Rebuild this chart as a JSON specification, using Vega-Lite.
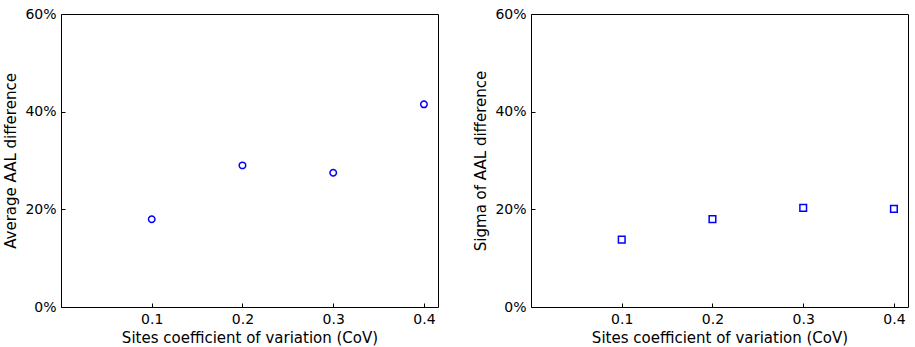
{
  "$schema": "https://vega.github.io/schema/vega-lite/v6.json",
  "padding": {"left": 3, "top": 6, "right": 2, "bottom": 5},
  "config": {
    "view": {"stroke": "black", "strokeWidth": 1},
    "font": "DejaVu Sans",
    "axis": {
      "domain": false,
      "grid": false,
      "tickColor": "black",
      "tickSize": -4,
      "tickWidth": 1,
      "labelFont": "DejaVu Sans",
      "labelFontSize": 14,
      "labelColor": "black",
      "titleFont": "DejaVu Sans",
      "titleFontSize": 15,
      "titleFontWeight": "normal",
      "titleColor": "black",
      "labelPadding": 9
    }
  },
  "spacing": 34,
  "datasets": {
    "avg": [
      {"cov": 0.1, "value": 0.1797},
      {"cov": 0.2, "value": 0.290},
      {"cov": 0.3, "value": 0.275},
      {"cov": 0.4, "value": 0.415}
    ],
    "sigma": [
      {"cov": 0.1, "value": 0.138},
      {"cov": 0.2, "value": 0.180},
      {"cov": 0.3, "value": 0.203},
      {"cov": 0.4, "value": 0.201}
    ]
  },
  "hconcat": [
    {
      "width": 377,
      "height": 293,
      "data": {"name": "avg"},
      "mark": {"type": "point", "shape": "circle", "filled": false, "color": "blue", "strokeWidth": 1.5, "size": 42, "opacity": 1},
      "encoding": {
        "x": {"field": "cov", "type": "quantitative", "scale": {"domain": [0, 0.4155], "nice": false, "zero": false},
              "axis": {"values": [0.1, 0.2, 0.3, 0.4], "format": ".1f", "title": "Sites coefficient of variation (CoV)", "titlePadding": 4}},
        "y": {"field": "value", "type": "quantitative", "scale": {"domain": [0, 0.6], "nice": false},
              "axis": {"values": [0, 0.2, 0.4, 0.6], "format": ".0%", "title": "Average AAL difference", "titlePadding": 6}}
      }
    },
    {
      "width": 377,
      "height": 293,
      "data": {"name": "sigma"},
      "mark": {"type": "point", "shape": "square", "filled": false, "color": "blue", "strokeWidth": 1.5, "size": 44, "opacity": 1},
      "encoding": {
        "x": {"field": "cov", "type": "quantitative", "scale": {"domain": [0, 0.4155], "nice": false, "zero": false},
              "axis": {"values": [0.1, 0.2, 0.3, 0.4], "format": ".1f", "title": "Sites coefficient of variation (CoV)", "titlePadding": 4}},
        "y": {"field": "value", "type": "quantitative", "scale": {"domain": [0, 0.6], "nice": false},
              "axis": {"values": [0, 0.2, 0.4, 0.6], "format": ".0%", "title": "Sigma of AAL difference", "titlePadding": 6}}
      }
    }
  ]
}
